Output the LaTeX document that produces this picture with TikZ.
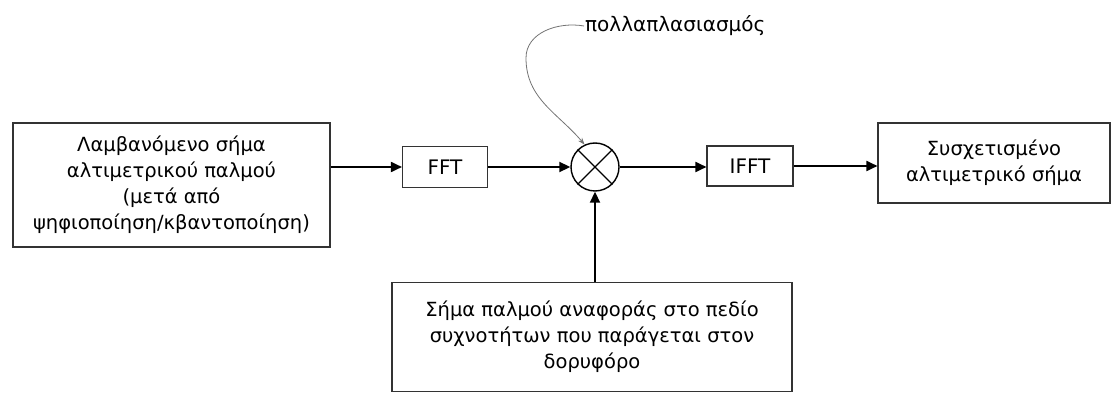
\documentclass[tikz,border=0pt]{standalone}
\usepackage{fontspec}
\setmainfont{DejaVu Sans}
\usetikzlibrary{arrows.meta}
\begin{document}
\begin{tikzpicture}[x=1pt,y=-1pt,
  box/.style={draw=black!80, line width=1.1pt, rectangle, align=center, inner sep=0pt,
    font=\fontsize{19.5}{26}\selectfont},
  conn/.style={line width=1.8pt, -{Triangle[length=11pt,width=10pt]}},
  note/.style={draw=black!55, line width=0.8pt, -{Stealth[length=7pt,width=5pt]}}]
\useasboundingbox (0,0) rectangle (1111,403);
\node[box, minimum width=317pt, minimum height=124pt] (src) at (171.5,185) {Λαμβανόμενο σήμα\\αλτιμετρικού παλμού\\(μετά από\\ψηφιοποίηση/κβαντοποίηση)};
\node[box, minimum width=85pt, minimum height=41pt, font=\fontsize{20}{25}\selectfont] (fft) at (445,167) {FFT};
\node[circle, draw=black, line width=1.4pt, minimum size=48pt, inner sep=0pt] (mul) at (595,167) {};
\draw[line width=1.4pt] (mul.north west) -- (mul.south east) (mul.north east) -- (mul.south west);
\node[box, minimum width=86pt, minimum height=40pt, font=\fontsize{20}{25}\selectfont] (ifft) at (750,166) {IFFT};
\node[box, minimum width=232pt, minimum height=80pt] (out) at (994,163) {Συσχετισμένο\\αλτιμετρικό σήμα};
\node[box, minimum width=400pt, minimum height=109pt] (ref) at (592,337) {Σήμα παλμού αναφοράς στο πεδίο\\συχνοτήτων που παράγεται στον\\δορυφόρο};
\node[font=\fontsize{20}{24}\selectfont, anchor=west, inner sep=1pt] (lbl) at (584,26) {πολλαπλασιασμός};
\coordinate (bend) at (526,58);
\draw[conn] (src.east |- fft.west) -- (fft.west);
\draw[conn] (fft.east) -- (mul.west);
\draw[conn] (mul.east) -- (ifft.west |- mul.east);
\draw[conn] (ifft.east) -- (out.west |- ifft.east);
\draw[conn] (mul.south |- ref.north) -- (mul.south);
\draw[note] (lbl.west) to[out=170,in=90] (bend) to[out=-90,in=130] (mul.115);
\end{tikzpicture}
\end{document}
